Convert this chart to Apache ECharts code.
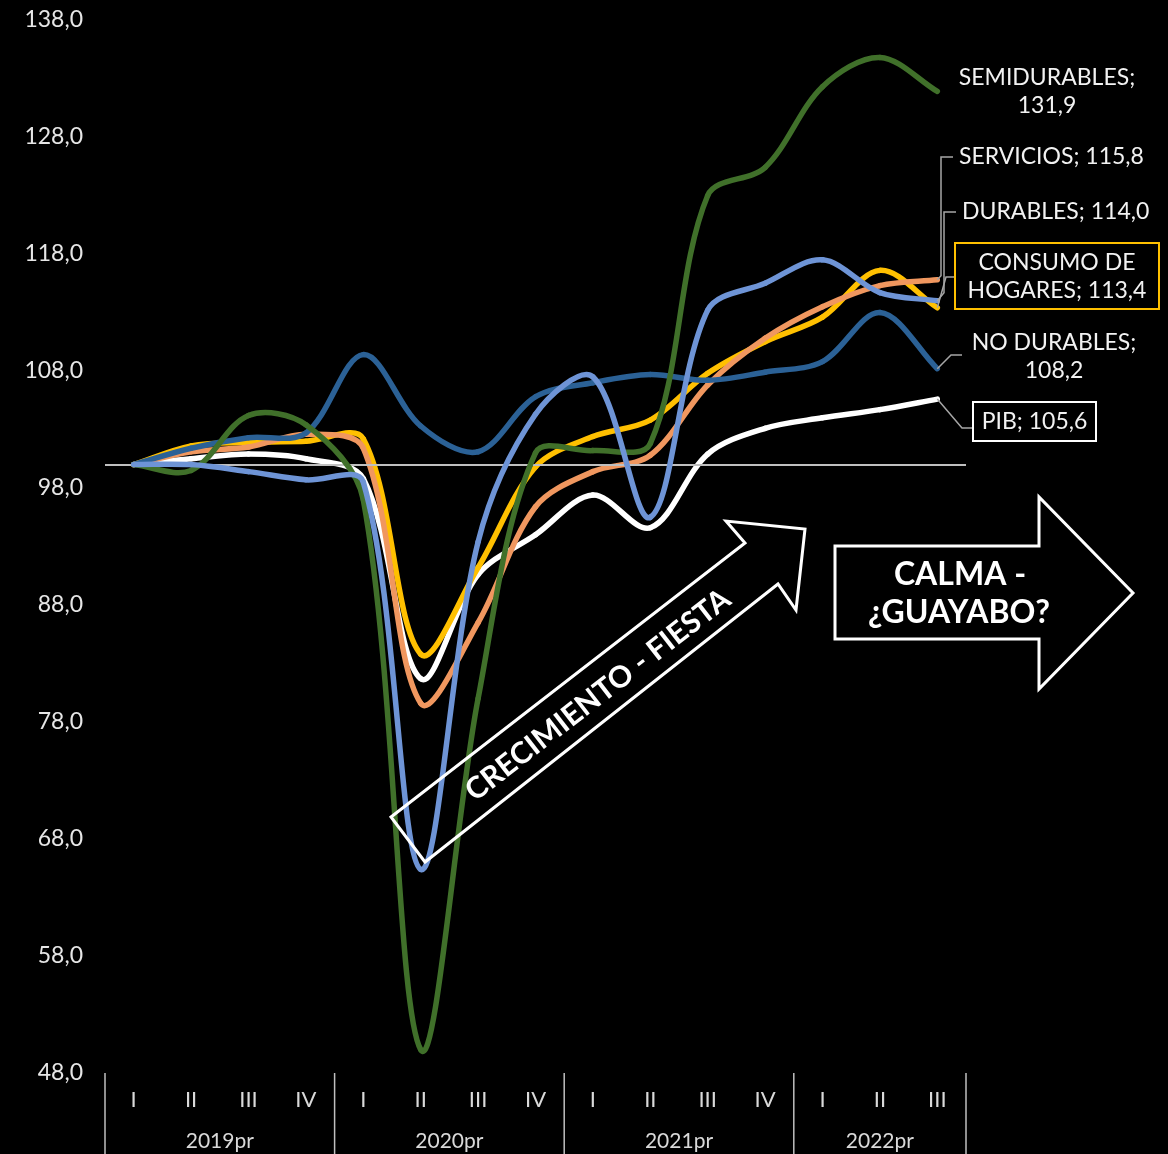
<!DOCTYPE html>
<html>
<head>
<meta charset="utf-8">
<script src="https://cdn.jsdelivr.net/npm/echarts@6/dist/echarts.min.js"></script>
<style>
html,body{margin:0;padding:0;background:#000;}
#chart{width:1168px;height:1154px;}
</style>
</head>
<body>
<div id="chart"></div>
<script>
// ---- data ----
const quarters = ['I','II','III','IV','I','II','III','IV','I','II','III','IV','I','II','III'];
const years = ['2019pr','2020pr','2021pr','2022pr'];
const yearSizes = [4,4,4,3];
const yTicks = {min:48, max:138, interval:10};

const pib      = [100, 100.5, 100.9, 100.5, 98.8, 81.7, 90.6, 94.0, 97.4, 94.6, 100.9, 103.1, 104.0, 104.7, 105.6];
const consumo  = [100, 101.6, 101.9, 102.0, 102.2, 83.8, 91.2, 99.8, 102.4, 103.8, 107.8, 110.5, 112.6, 116.6, 113.4];
const servicios= [100, 101.1, 101.5, 102.6, 101.4, 79.6, 86.5, 96.4, 99.4, 100.8, 106.8, 110.8, 113.5, 115.3, 115.8];
const noDur    = [100, 101.4, 102.3, 102.7, 109.4, 103.3, 101.1, 105.8, 107.0, 107.7, 107.2, 107.9, 108.8, 113.0, 108.2];
const semiDur  = [100, 99.5, 104.2, 103.4, 97.0, 50.0, 80.0, 101.0, 101.2, 101.8, 123.0, 125.4, 132.3, 134.8, 131.9];
const durables = [100, 100.0, 99.4, 98.7, 98.5, 65.4, 93.4, 104.3, 107.5, 95.5, 113.2, 115.5, 117.5, 114.7, 114.0];

const names = {
  pib:'PIB', consumo:'CONSUMO DE HOGARES', servicios:'SERVICIOS', noDur:'NO DURABLES',
  semiDur:'SEMIDURABLES', durables:'DURABLES'
};
const baseLine = 100;

// ---- chart ----
const FONT = 'Lato, "Noto Sans", sans-serif';
const fmt = v => v.toFixed(1).replace('.', ',');
const chart = echarts.init(document.getElementById('chart'), null, {renderer:'canvas'});

// smoothed line drawn segment by segment through the data points
// (bezier tangents proportional to neighbouring segment lengths, like a spreadsheet "smoothed line")
function smoothSeries(name, values, color, z, extra) {
  const last = values.length - 1;
  const T = 1/3;
  const s = {
    type:'custom', name, z, clip:false, silent:true,
    data: values.map((v, i) => [i, v]),
    encode:{x:0, y:1},
    renderItem: (params, api) => {
      const i = params.dataIndex;
      if (i >= last) return null;
      const P = k => { k = Math.max(0, Math.min(last, k)); return api.coord([k, values[k]]); };
      const dist = (a, b) => Math.hypot(a[0]-b[0], a[1]-b[1]);
      const p0 = P(i-1), p1 = P(i), p2 = P(i+1), p3 = P(i+2);
      // control point leaving p1
      const d01 = dist(p0,p1), d12 = dist(p1,p2), d23 = dist(p2,p3);
      const r1 = (d01 + d12) > 0 ? d12/(d01+d12) : 0.5;
      const r2 = (d12 + d23) > 0 ? d12/(d12+d23) : 0.5;
      const c1 = [p1[0] + (p2[0]-p0[0])*T*r1, p1[1] + (p2[1]-p0[1])*T*r1];
      const c2 = [p2[0] - (p3[0]-p1[0])*T*r2, p2[1] - (p3[1]-p1[1])*T*r2];
      return {
        type:'bezierCurve',
        shape:{x1:p1[0], y1:p1[1], x2:p2[0], y2:p2[1], cpx1:c1[0], cpy1:c1[1], cpx2:c2[0], cpy2:c2[1]},
        style:{stroke:color, lineWidth:5.5, fill:null, lineCap:'round', lineJoin:'round'}
      };
    }
  };
  return Object.assign(s, extra || {});
}

const option = {
  backgroundColor:'#000',
  animation:false,
  grid:{left:105, right:202, top:20, bottom:81, containLabel:false},
  xAxis:{
    type:'category', data:quarters, boundaryGap:true,
    axisLine:{show:false}, axisTick:{show:false},
    axisLabel:{color:'#d9d9d9', fontSize:22, fontFamily:FONT, margin:16}
  },
  yAxis:{
    type:'value', min:yTicks.min, max:yTicks.max, interval:yTicks.interval,
    splitLine:{show:false}, axisLine:{show:false}, axisTick:{show:false},
    axisLabel:{color:'#e6e6e6', fontSize:23, fontFamily:FONT, margin:22, formatter:v=>fmt(v)}
  },
  series:[
    smoothSeries(names.pib, pib, '#ffffff', 2, {
      markLine:{silent:true, symbol:'none', label:{show:false},
        lineStyle:{color:'#bfbfbf', width:2, type:'solid'},
        data:[{yAxis:baseLine}]}
    }),
    smoothSeries(names.consumo, consumo, '#ffc000', 3),
    smoothSeries(names.servicios, servicios, '#f0975f', 4),
    smoothSeries(names.noDur, noDur, '#2b6196', 5),
    smoothSeries(names.semiDur, semiDur, '#40702a', 6),
    smoothSeries(names.durables, durables, '#6e94d6', 7)
  ]
};
chart.setOption(option);

// ---- annotations ----
const last = arr => arr[arr.length-1];
const n = quarters.length;
const px = (i, v) => chart.convertToPixel({gridIndex:0}, [i, v]);
const x0 = px(0, 100)[0], x1 = px(1, 100)[0];
const band = x1 - x0;
const axisY = px(0, yTicks.min)[1];

const g = [];
const txtStyle = (extra) => Object.assign({fill:'#f2f2f2', fontSize:23, fontFamily:FONT}, extra);

// year separators & labels
let start = 0;
const sepXs = [x0 - band/2];
years.forEach((y, k) => {
  const end = start + yearSizes[k];
  const cx = (px(start,100)[0] + px(end-1,100)[0]) / 2;
  g.push({type:'text', x:cx, y:axisY+68, style:txtStyle({text:y, fontSize:21, fill:'#d9d9d9', align:'center', verticalAlign:'middle'})});
  sepXs.push(px(end-1,100)[0] + band/2);
  start = end;
});
sepXs.forEach(sx => g.push({type:'line', shape:{x1:sx, y1:axisY, x2:sx, y2:1154}, style:{stroke:'#bfbfbf', lineWidth:1.5}}));

// end labels with leaders
const leader = pts => ({type:'polyline', shape:{points:pts}, style:{stroke:'#a6a6a6', lineWidth:1.5, fill:null}, z:10});
const pServ = px(n-1, last(servicios));
const pDur = px(n-1, last(durables));
const pCons = px(n-1, last(consumo));
const pNo = px(n-1, last(noDur));
const pPib = px(n-1, last(pib));

g.push({type:'text', x:1047, y:92, style:txtStyle({text:names.semiDur+';\n'+fmt(last(semiDur)), align:'center', verticalAlign:'middle', lineHeight:28})});

g.push(leader([[pServ[0], pServ[1]], [941, pServ[1]-4], [941, 157], [953, 157]]));
g.push({type:'text', x:959, y:157, style:txtStyle({text:names.servicios+'; '+fmt(last(servicios)), align:'left', verticalAlign:'middle'})});

g.push(leader([[pDur[0], pDur[1]], [944, pDur[1]-8], [944, 212], [956, 212]]));
g.push({type:'text', x:962, y:212, style:txtStyle({text:names.durables+'; '+fmt(last(durables)), align:'left', verticalAlign:'middle'})});

g.push(leader([[pCons[0], pCons[1]], [946, 277], [955, 277]]));
g.push({type:'rect', shape:{x:955, y:243, width:204, height:66}, style:{fill:'#000', stroke:'#ffc000', lineWidth:2}, z:10});
g.push({type:'text', x:1057, y:277, z:11, style:txtStyle({text:'CONSUMO DE\nHOGARES; '+fmt(last(consumo)), align:'center', verticalAlign:'middle', lineHeight:28})});

g.push(leader([[pNo[0], pNo[1]], [951, 355], [962, 355]]));
g.push({type:'text', x:1054, y:357, style:txtStyle({text:names.noDur+';\n'+fmt(last(noDur)), align:'center', verticalAlign:'middle', lineHeight:28})});

g.push(leader([[pPib[0], pPib[1]], [962, 428], [973, 428]]));
g.push({type:'rect', shape:{x:973, y:402, width:123, height:39}, style:{fill:'#000', stroke:'#ffffff', lineWidth:2}, z:10});
g.push({type:'text', x:1034.5, y:422, z:11, style:txtStyle({text:names.pib+'; '+fmt(last(pib)), align:'center', verticalAlign:'middle'})});

// diagonal arrow (outline only)
g.push({type:'polygon', z:20, shape:{points:[[391,817],[745,543],[726,521],[805,529],[796,610],[778,584],[425,862]]},
  style:{fill:null, stroke:'#ffffff', lineWidth:3}});
g.push({type:'text', x:598, y:695, rotation:37.7*Math.PI/180, originX:0, originY:0, z:21,
  style:{text:'CRECIMIENTO - FIESTA', fill:'#ffffff', fontSize:30, fontWeight:'bold', fontFamily:FONT, align:'center', verticalAlign:'middle'}});

// right arrow
g.push({type:'polygon', z:20, shape:{points:[[835,546],[1039,546],[1039,497],[1133,593],[1039,689],[1039,639],[835,639]]},
  style:{fill:'#000', stroke:'#ffffff', lineWidth:3}});
g.push({type:'text', x:960, y:575, z:21, style:{text:'CALMA -', fill:'#ffffff', fontSize:32, fontWeight:'bold', fontFamily:FONT, align:'center', verticalAlign:'middle'}});
g.push({type:'text', x:959, y:613, z:21, style:{text:'¿GUAYABO?', fill:'#ffffff', fontSize:32, fontWeight:'bold', fontFamily:FONT, align:'center', verticalAlign:'middle'}});

chart.setOption({graphic:g});
</script>
</body>
</html>
